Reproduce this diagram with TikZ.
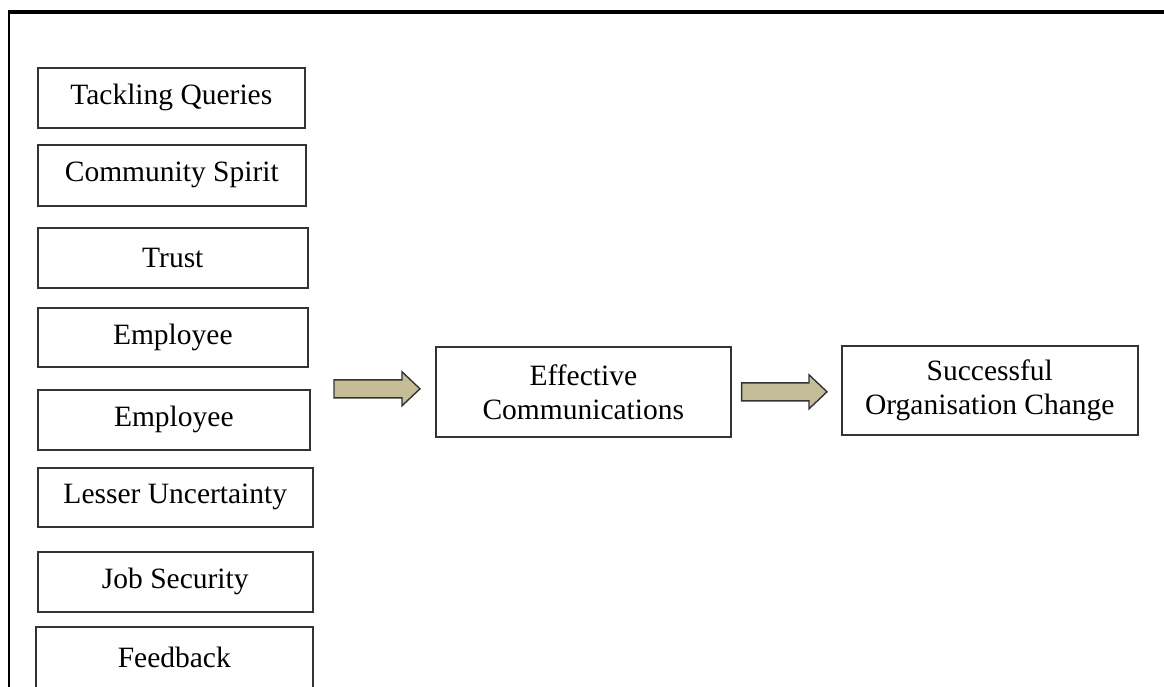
\documentclass[tikz,border=0pt]{standalone}
\usepackage{fontspec}
\setmainfont{Liberation Serif}
\usetikzlibrary{calc}
\definecolor{arrowKhaki}{HTML}{C4BD97}
\definecolor{boxLine}{HTML}{333333}

% block arrow from tail #1 to tip #2
\newcommand{\blockarrow}[2]{%
  \draw[fatarrow] ($(#1)+(0,-9)$) -- ($(#2)+(-18,-9)$) -- ($(#2)+(-18,-17)$) -- (#2)
    -- ($(#2)+(-18,17)$) -- ($(#2)+(-18,9)$) -- ($(#1)+(0,9)$) -- cycle;}

\begin{document}
\begin{tikzpicture}[x=1pt, y=-1pt,
  every node/.style={font=\fontsize{29.5}{34}\selectfont},
  factor/.style={draw=boxLine, line width=1.6pt, fill=white, anchor=north west,
                 inner sep=0pt, align=center},
  fatarrow/.style={draw=boxLine, line width=1.4pt, fill=arrowKhaki, line join=miter}
]
\useasboundingbox (0,0) rectangle (1164,687);
\clip (0,0) rectangle (1164,687);

% frame
\draw[line width=3.5pt] (8,12) -- (1164,12);
\draw[line width=2pt] (9,12) -- (9,690);

% factors
\node[factor, minimum width=267, minimum height=60] (tq) at (37,67) {Tackling Queries};
\node[factor, minimum width=268, minimum height=61] (cs) at (37,144) {Community Spirit};
\node[factor, minimum width=270, minimum height=60] (tr) at (37,227) {Trust};
\node[factor, minimum width=270, minimum height=59] (em1) at (37,307) {Employee};
\node[factor, minimum width=272, minimum height=60] (em2) at (37,389) {Employee};
\node[factor, minimum width=275, minimum height=59] (lu) at (37,467) {Lesser Uncertainty};
\node[factor, minimum width=275, minimum height=60] (js) at (37,551) {Job Security};
\node[factor, minimum width=277, minimum height=62] (fb) at (35,626) {Feedback};

% outcomes
\node[factor, minimum width=295, minimum height=90] (eff) at (435,346) {Effective\\Communications};
\node[factor, minimum width=296, minimum height=89] (succ) at (841,345) {Successful\\Organisation Change};

% arrows
\coordinate (a1tail) at ($(eff.west)+(-101,-3)$);
\coordinate (a1tip) at ($(eff.west)+(-15,-3)$);
\coordinate (a2tail) at ($(eff.east)+(10,0)$);
\coordinate (a2tip) at ($(a2tail -| succ.west)+(-14,0)$);
\blockarrow{a1tail}{a1tip}
\blockarrow{a2tail}{a2tip}
\end{tikzpicture}
\end{document}
